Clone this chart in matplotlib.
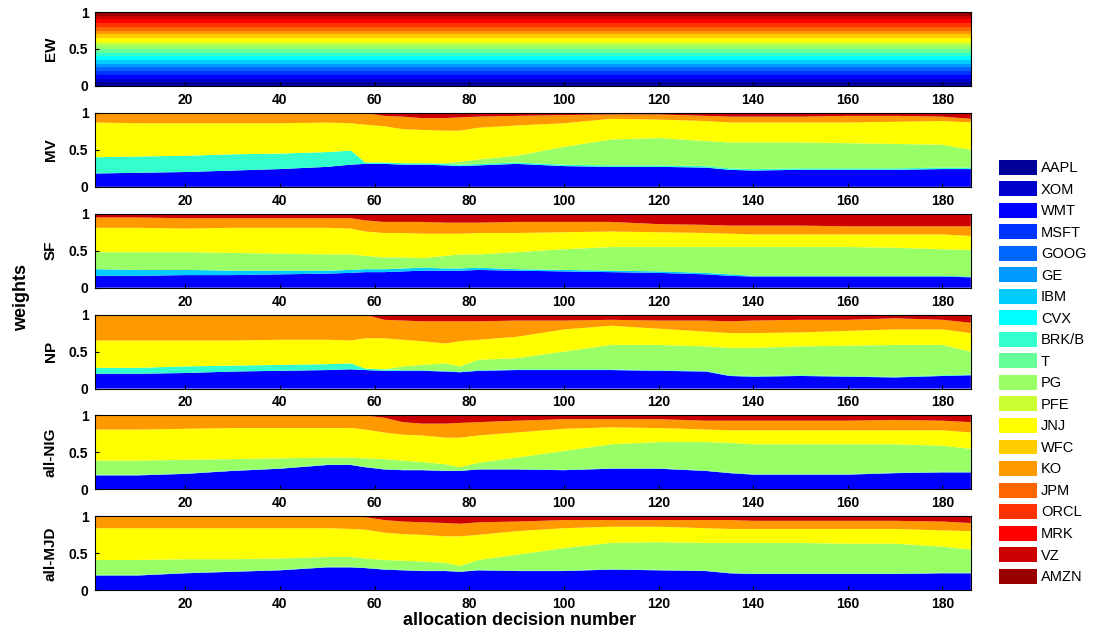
import numpy as np
import matplotlib
matplotlib.use("Agg")
import matplotlib.pyplot as plt
from matplotlib.patches import Patch

assets = ["AAPL", "XOM", "WMT", "MSFT", "GOOG", "GE", "IBM", "CVX", "BRK/B", "T",
          "PG", "PFE", "JNJ", "WFC", "KO", "JPM", "ORCL", "MRK", "VZ", "AMZN"]

dec = [1, 10, 20, 30, 40, 50, 55, 58, 62, 66, 70, 75, 78, 82, 90, 100, 110, 120,
       130, 135, 140, 150, 160, 170, 180, 186]

# EW: equal weight on every asset
EW = [1 / 20] * 20

# MV
MV_WMT = [0.18, 0.19, 0.20, 0.22, 0.24, 0.27, 0.30, 0.31, 0.31, 0.30, 0.30, 0.29, 0.28,
          0.29, 0.31, 0.28, 0.27, 0.27, 0.26, 0.23, 0.22, 0.23, 0.23, 0.23, 0.24, 0.24]
MV_BRK = [0.22, 0.22, 0.22, 0.22, 0.21, 0.20, 0.19, 0.02, 0.02, 0.02, 0.02, 0.02, 0.02,
          0.02, 0.02, 0.02, 0.02, 0.02, 0.02, 0.02, 0.02, 0.02, 0.02, 0.02, 0.02, 0.02]
MV_PG = [0.00, 0.00, 0.00, 0.00, 0.00, 0.00, 0.00, 0.00, 0.00, 0.00, 0.00, 0.01, 0.04,
         0.06, 0.09, 0.24, 0.35, 0.37, 0.34, 0.35, 0.36, 0.35, 0.34, 0.33, 0.31, 0.24]
MV_JNJ = [0.47, 0.45, 0.44, 0.42, 0.41, 0.40, 0.37, 0.51, 0.49, 0.46, 0.45, 0.44, 0.42,
          0.43, 0.41, 0.32, 0.28, 0.25, 0.27, 0.27, 0.27, 0.27, 0.28, 0.30, 0.32, 0.37]
MV_KO = [0.13, 0.14, 0.14, 0.14, 0.14, 0.13, 0.14, 0.16, 0.14, 0.17, 0.16, 0.17, 0.18,
         0.15, 0.13, 0.11, 0.06, 0.07, 0.07, 0.08, 0.08, 0.08, 0.09, 0.08, 0.06, 0.05]
MV_VZ = [0.00, 0.00, 0.00, 0.00, 0.00, 0.00, 0.00, 0.00, 0.04, 0.05, 0.07, 0.07, 0.06,
         0.05, 0.04, 0.03, 0.02, 0.02, 0.04, 0.05, 0.05, 0.05, 0.04, 0.04, 0.05, 0.08]

# SF
SF_WMT = [0.16, 0.16, 0.17, 0.17, 0.18, 0.19, 0.20, 0.21, 0.21, 0.22, 0.23, 0.23, 0.23,
          0.24, 0.23, 0.22, 0.21, 0.20, 0.18, 0.16, 0.15, 0.15, 0.15, 0.15, 0.15, 0.14]
SF_IBM = [0.09, 0.08, 0.07, 0.06, 0.05, 0.04, 0.04, 0.04, 0.04, 0.04, 0.04, 0.03, 0.03,
          0.03, 0.02, 0.02, 0.02, 0.02, 0.02, 0.02, 0.01, 0.01, 0.01, 0.01, 0.01, 0.01]
SF_PG = [0.23, 0.24, 0.24, 0.24, 0.23, 0.22, 0.21, 0.18, 0.16, 0.15, 0.13, 0.17, 0.19,
         0.18, 0.23, 0.28, 0.32, 0.33, 0.35, 0.37, 0.39, 0.39, 0.39, 0.38, 0.36, 0.36]
SF_JNJ = [0.33, 0.33, 0.32, 0.34, 0.35, 0.36, 0.35, 0.33, 0.33, 0.33, 0.33, 0.30, 0.28,
          0.29, 0.26, 0.23, 0.21, 0.20, 0.19, 0.18, 0.17, 0.17, 0.17, 0.18, 0.20, 0.19]
SF_KO = [0.14, 0.14, 0.14, 0.13, 0.13, 0.13, 0.14, 0.15, 0.15, 0.15, 0.16, 0.15, 0.15,
         0.14, 0.15, 0.14, 0.13, 0.11, 0.11, 0.11, 0.12, 0.12, 0.11, 0.11, 0.11, 0.13]
SF_VZ = [0.05, 0.05, 0.06, 0.06, 0.06, 0.06, 0.06, 0.09, 0.11, 0.11, 0.11, 0.12, 0.12,
         0.12, 0.11, 0.11, 0.11, 0.14, 0.15, 0.16, 0.16, 0.16, 0.17, 0.17, 0.17, 0.17]

# NP
NP_WMT = [0.20, 0.20, 0.21, 0.23, 0.24, 0.25, 0.26, 0.25, 0.24, 0.24, 0.24, 0.23, 0.22,
          0.24, 0.25, 0.25, 0.25, 0.24, 0.23, 0.17, 0.16, 0.17, 0.16, 0.15, 0.17, 0.18]
NP_BRK = [0.08, 0.08, 0.09, 0.08, 0.08, 0.08, 0.08, 0.02, 0.02, 0.01, 0.01, 0.01, 0.01,
          0.01, 0.01, 0.01, 0.01, 0.01, 0.01, 0.01, 0.01, 0.01, 0.01, 0.01, 0.01, 0.01]
NP_PG = [0.00, 0.00, 0.00, 0.00, 0.00, 0.00, 0.00, 0.00, 0.00, 0.05, 0.07, 0.10, 0.07,
         0.14, 0.15, 0.24, 0.33, 0.34, 0.33, 0.37, 0.38, 0.39, 0.41, 0.43, 0.41, 0.31]
NP_JNJ = [0.37, 0.37, 0.35, 0.34, 0.34, 0.33, 0.31, 0.41, 0.42, 0.36, 0.32, 0.27, 0.34,
          0.27, 0.29, 0.30, 0.26, 0.22, 0.20, 0.20, 0.20, 0.19, 0.20, 0.21, 0.21, 0.25]
NP_KO = [0.35, 0.35, 0.35, 0.35, 0.34, 0.34, 0.35, 0.32, 0.25, 0.26, 0.27, 0.30, 0.27,
         0.25, 0.22, 0.12, 0.08, 0.11, 0.15, 0.16, 0.17, 0.17, 0.15, 0.15, 0.13, 0.14]
NP_VZ = [0.00, 0.00, 0.00, 0.00, 0.00, 0.00, 0.00, 0.00, 0.07, 0.08, 0.09, 0.09, 0.09,
         0.09, 0.08, 0.08, 0.07, 0.08, 0.08, 0.09, 0.08, 0.07, 0.07, 0.05, 0.07, 0.11]

# all-NIG
NIG_WMT = [0.19, 0.19, 0.21, 0.25, 0.28, 0.33, 0.33, 0.30, 0.27, 0.26, 0.26, 0.25, 0.25,
           0.27, 0.27, 0.26, 0.28, 0.28, 0.25, 0.22, 0.20, 0.20, 0.20, 0.22, 0.23, 0.23]
NIG_T = [0.01] * 26
NIG_PG = [0.19, 0.19, 0.18, 0.15, 0.13, 0.09, 0.09, 0.11, 0.13, 0.12, 0.10, 0.08, 0.04,
          0.08, 0.15, 0.25, 0.32, 0.35, 0.38, 0.40, 0.40, 0.40, 0.40, 0.38, 0.35, 0.31]
NIG_JNJ = [0.42, 0.42, 0.42, 0.42, 0.41, 0.40, 0.40, 0.39, 0.36, 0.35, 0.36, 0.36, 0.40,
           0.37, 0.34, 0.30, 0.23, 0.19, 0.17, 0.17, 0.19, 0.19, 0.19, 0.19, 0.21, 0.22]
NIG_KO = [0.19, 0.19, 0.18, 0.17, 0.17, 0.17, 0.17, 0.19, 0.20, 0.17, 0.16, 0.19, 0.20,
          0.18, 0.16, 0.13, 0.11, 0.12, 0.12, 0.13, 0.13, 0.13, 0.13, 0.14, 0.13, 0.14]
NIG_VZ = [0.00, 0.00, 0.00, 0.00, 0.00, 0.00, 0.00, 0.00, 0.03, 0.09, 0.11, 0.11, 0.10,
          0.09, 0.07, 0.05, 0.05, 0.05, 0.07, 0.07, 0.07, 0.07, 0.07, 0.06, 0.07, 0.09]

# all-MJD
MJD_WMT = [0.20, 0.20, 0.23, 0.25, 0.27, 0.31, 0.31, 0.30, 0.28, 0.27, 0.26, 0.26, 0.25,
           0.27, 0.26, 0.26, 0.28, 0.27, 0.26, 0.23, 0.22, 0.22, 0.22, 0.22, 0.23, 0.23]
MJD_T = [0.01] * 26
MJD_PG = [0.20, 0.20, 0.18, 0.16, 0.15, 0.13, 0.13, 0.12, 0.12, 0.12, 0.12, 0.10, 0.07,
          0.13, 0.21, 0.30, 0.35, 0.37, 0.37, 0.40, 0.41, 0.41, 0.40, 0.40, 0.35, 0.31]
MJD_JNJ = [0.43, 0.43, 0.42, 0.42, 0.41, 0.39, 0.38, 0.39, 0.37, 0.36, 0.36, 0.36, 0.40,
           0.34, 0.32, 0.27, 0.22, 0.21, 0.20, 0.19, 0.19, 0.19, 0.20, 0.20, 0.22, 0.25]
MJD_KO = [0.16, 0.16, 0.16, 0.16, 0.16, 0.16, 0.17, 0.17, 0.17, 0.17, 0.17, 0.18, 0.17,
          0.17, 0.13, 0.11, 0.09, 0.09, 0.11, 0.12, 0.11, 0.11, 0.11, 0.11, 0.12, 0.11]
MJD_VZ = [0.00, 0.00, 0.00, 0.00, 0.00, 0.00, 0.00, 0.01, 0.05, 0.07, 0.08, 0.09, 0.10,
          0.08, 0.07, 0.05, 0.05, 0.05, 0.05, 0.05, 0.06, 0.06, 0.06, 0.06, 0.07, 0.09]

panels = [
    ("EW", None),
    ("MV", {"WMT": MV_WMT, "BRK/B": MV_BRK, "PG": MV_PG, "JNJ": MV_JNJ, "KO": MV_KO, "VZ": MV_VZ}),
    ("SF", {"WMT": SF_WMT, "IBM": SF_IBM, "PG": SF_PG, "JNJ": SF_JNJ, "KO": SF_KO, "VZ": SF_VZ}),
    ("NP", {"WMT": NP_WMT, "BRK/B": NP_BRK, "PG": NP_PG, "JNJ": NP_JNJ, "KO": NP_KO, "VZ": NP_VZ}),
    ("all-NIG", {"WMT": NIG_WMT, "T": NIG_T, "PG": NIG_PG, "JNJ": NIG_JNJ, "KO": NIG_KO, "VZ": NIG_VZ}),
    ("all-MJD", {"WMT": MJD_WMT, "T": MJD_T, "PG": MJD_PG, "JNJ": MJD_JNJ, "KO": MJD_KO, "VZ": MJD_VZ}),
]

# MATLAB jet(20)
colors = [(0, 0, .6), (0, 0, .8), (0, 0, 1), (0, .2, 1), (0, .4, 1), (0, .6, 1), (0, .8, 1),
          (0, 1, 1), (.2, 1, .8), (.4, 1, .6), (.6, 1, .4), (.8, 1, .2), (1, 1, 0), (1, .8, 0),
          (1, .6, 0), (1, .4, 0), (1, .2, 0), (1, 0, 0), (.8, 0, 0), (.6, 0, 0)]

plt.rcParams['font.family'] = ['Liberation Sans', 'DejaVu Sans']

fig, axes = plt.subplots(6, 1, figsize=(10.97, 6.34), dpi=100)
fig.subplots_adjust(left=0.087, right=0.885, top=0.981, bottom=0.069, hspace=0.365)

for ax, (name, weights) in zip(axes, panels):
    if weights is None:
        x = [1, 186]
        rows = [[w, w] for w in EW]
        cols = colors
    else:
        x = dec
        rows, cols = [], []
        for i, a in enumerate(assets):
            if a in weights:
                rows.append(weights[a])
                cols.append(colors[i])
        rows = np.array(rows, dtype=float)
        rows = rows / rows.sum(axis=0)
    ax.stackplot(x, rows, colors=cols, linewidth=0)
    ax.set_xlim(1, 186)
    ax.set_ylim(0, 1)
    ax.set_xticks(range(20, 181, 20))
    ax.set_yticks([0, 0.5, 1])
    ax.set_yticklabels(["0", "0.5", "1"])
    ax.tick_params(direction="in", length=3, labelsize=10, pad=5)
    for lab in ax.get_xticklabels() + ax.get_yticklabels():
        lab.set_fontweight("bold")
    ax.set_ylabel(name, fontsize=11, fontweight="bold", labelpad=8)
    for s in ax.spines.values():
        s.set_linewidth(0.8)

fig.text(0.012, 0.53, "weights", rotation=90, fontsize=13, fontweight="bold",
         va="center", ha="left")
fig.text(0.474, 0.008, "allocation decision number", fontsize=13, fontweight="bold",
         ha="center", va="bottom")

handles = [Patch(facecolor=c, edgecolor="none") for c in colors]
fig.legend(handles, assets, loc="upper left", bbox_to_anchor=(0.911, 0.748),
           frameon=False, fontsize=10.5, handlelength=2.6, handleheight=1.2,
           labelspacing=0.42, handletextpad=0.25, borderaxespad=0, borderpad=0)

fig.savefig("out.png", dpi=100)
